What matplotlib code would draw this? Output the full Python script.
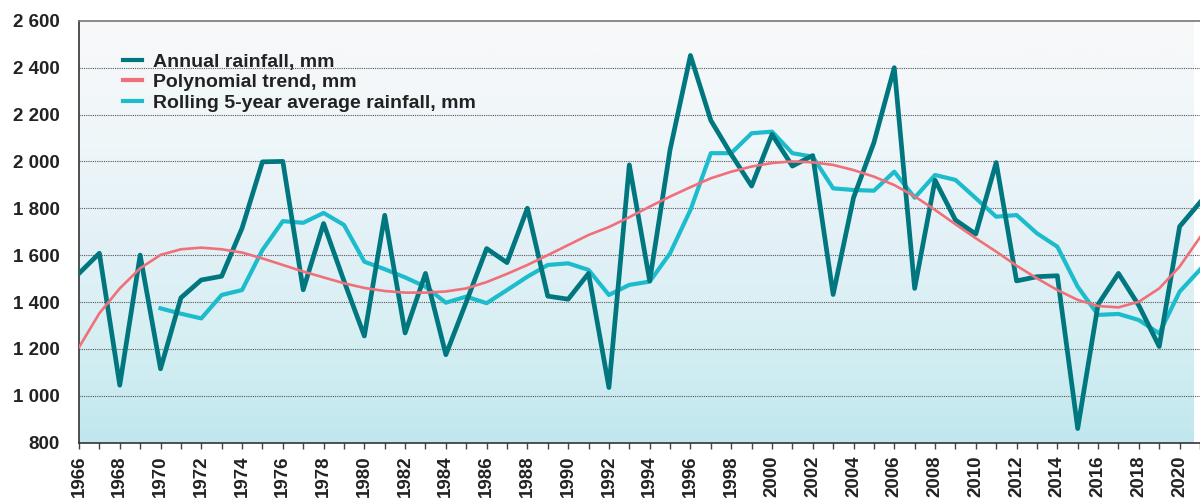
import numpy as np
import matplotlib
matplotlib.use('Agg')
import matplotlib.pyplot as plt
from matplotlib.colors import LinearSegmentedColormap

# Jahre und Werte
years = list(range(1966, 2022))
annual = [1522, 1608, 1045, 1600, 1115, 1418, 1494, 1510, 1715, 1998,
          2000, 1452, 1735, 1490, 1255, 1770, 1268, 1522, 1175, 1400,
          1628, 1568, 1800, 1425, 1412, 1522, 1035, 1985, 1490, 2050,
          2452, 2175, 2030, 1895, 2115, 1980, 2025, 1432, 1845, 2080,
          2400, 1458, 1920, 1750, 1690, 1995, 1490, 1508, 1512, 860,
          1390, 1522, 1385, 1210, 1722, 1825]
trend = [1207, 1352, 1458, 1544, 1601, 1625, 1632, 1625, 1611, 1586,
         1558, 1530, 1505, 1480, 1460, 1447, 1440, 1440, 1445, 1458,
         1485, 1520, 1558, 1600, 1643, 1686, 1720, 1762, 1807, 1850,
         1890, 1928, 1956, 1978, 1993, 2000, 1996, 1985, 1963, 1935,
         1899, 1851, 1793, 1732, 1672, 1615, 1555, 1501, 1451, 1409,
         1383, 1377, 1401, 1458, 1551, 1676]
rolling_years = list(range(1970, 2022))
rolling = [1373, 1350, 1330, 1430, 1451, 1622, 1745, 1738, 1780, 1729,
           1572, 1540, 1505, 1465, 1397, 1423, 1395, 1451, 1508, 1558,
           1565, 1537, 1430, 1473, 1487, 1608, 1793, 2035, 2035, 2120,
           2127, 2035, 2020, 1885, 1878, 1875, 1956, 1845, 1942, 1921,
           1843, 1764, 1771, 1693, 1636, 1465, 1345, 1349, 1323, 1266,
           1444, 1538]

labels = ['Annual rainfall, mm', 'Polynomial trend, mm',
          'Rolling 5-year average rainfall, mm']

plt.rcParams['font.family'] = ['Liberation Sans', 'DejaVu Sans']
plt.rcParams['font.weight'] = 'bold'

fig = plt.figure(figsize=(12, 5), dpi=100)
ax = fig.add_axes([79 / 1200, 1 - 442.6 / 500, 1 - 79 / 1200, (442.6 - 20.8) / 500])

xmin, xmax = 1966, 1966 + (1200 - 79) / 20.5
ymin, ymax = 800, 2600

# Hintergrund-Verlauf
cmap = LinearSegmentedColormap.from_list('bg', [(0, '#f9f9f9'), (0.3, '#edf6f9'),
                                                (0.5, '#e4f1f7'), (0.75, '#d6eff3'),
                                                (1.0, '#c0e7ee')])
grad = np.linspace(0, 1, 256).reshape(-1, 1)
ax.imshow(grad, cmap=cmap, aspect='auto', extent=[xmin, xmax, ymin, ymax],
          origin='upper', zorder=0)

# Gitterlinien
for v in range(1000, 2600, 200):
    ax.axhline(v, color='#555555', lw=0.8, ls=(0, (1, 1)), zorder=1)

ax.plot(years, annual, color='#00767e', lw=3.4, zorder=3, label=labels[0])
ax.plot(years, trend, color='#f0707a', lw=1.9, zorder=4, label=labels[1])
ax.plot(rolling_years, rolling, color='#1cbccc', lw=3.0, zorder=2, label=labels[2])

ax.set_xlim(xmin, xmax)
ax.set_ylim(ymin, ymax)

ax.set_xticks(years)
ax.set_xticklabels([str(y) if y % 2 == 0 else '' for y in years],
                   rotation=90, fontsize=13.5, fontweight='bold', color='#222222')
ax.set_yticks(range(800, 2601, 200))
ax.set_yticklabels([f'{v:,}'.replace(',', ' ') for v in range(800, 2601, 200)],
                   fontsize=13.5, fontweight='bold', color='#222222')
ax.tick_params(axis='x', length=4, width=1, color='#444444', pad=5)
ax.tick_params(axis='y', length=0, pad=14)

ax.spines['right'].set_visible(False)
ax.spines['top'].set_color('#777777')
ax.spines['left'].set_color('#333333')
ax.spines['bottom'].set_color('#333333')
for s in ['top', 'left', 'bottom']:
    ax.spines[s].set_linewidth(1.2)

leg = ax.legend(loc='upper left', bbox_to_anchor=(123 / 1200, 1 - 53 / 500),
                bbox_transform=fig.transFigure, frameon=False, fontsize=14,
                handlelength=1.0, handletextpad=0.55, labelspacing=0.15,
                borderpad=0, borderaxespad=0)
for line in leg.get_lines():
    line.set_linewidth(3)
for t in leg.get_texts():
    t.set_color('#222222')

fig.savefig('out.png', dpi=100)
